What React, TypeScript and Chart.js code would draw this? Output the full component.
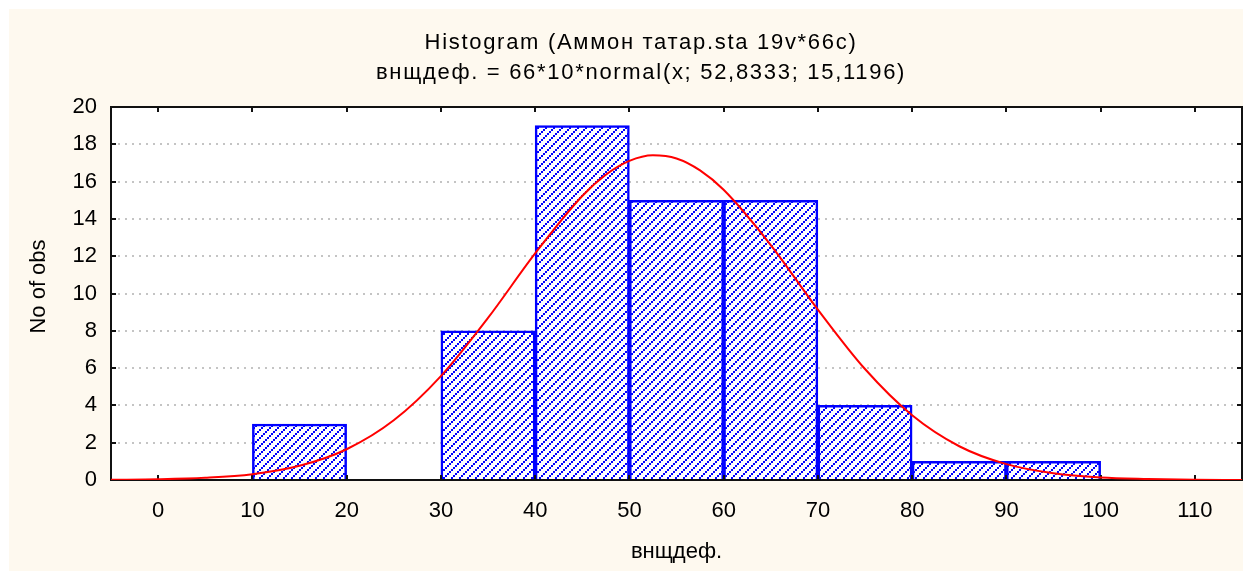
import React, { useEffect, useRef } from "react";
import { Chart, registerables } from "chart.js";

Chart.register(...registerables);

const titleLine1 = "Histogram (Аммон татар.sta 19v*66c)";
const titleLine2 = "внщдеф. = 66*10*normal(x; 52,8333; 15,1196)";
const xAxisTitle = "внщдеф.";
const yAxisTitle = "No of obs";

const binCenters = [5, 15, 25, 35, 45, 55, 65, 75, 85, 95, 105];
const binCounts = [0, 3, 0, 8, 19, 15, 15, 4, 1, 1, 0];

const curveX = [-5, 0, 5, 10, 15, 20, 25, 30, 35, 40, 45, 47.5, 50, 52.5, 55, 57.5, 60, 65, 70, 75, 80, 85, 90, 95, 100, 105, 110, 115];
const curveY = [0.01, 0.04, 0.12, 0.31, 0.76, 1.65, 3.2, 5.57, 8.69, 12.15, 15.23, 16.37, 17.11, 17.41, 17.24, 16.6, 15.56, 12.6, 9.14, 5.95, 3.47, 1.81, 0.85, 0.36, 0.13, 0.05, 0.01, 0.0];

const xTickValues = [0, 10, 20, 30, 40, 50, 60, 70, 80, 90, 100, 110];
const yMin = 0;
const yMax = 20;
const yStep = 2;
const xMin = -5;
const xMax = 115;

const FONT = "'Liberation Sans', Arial, sans-serif";

const decorPlugin = {
  id: "decor",
  beforeDraw(chart: any) {
    const { ctx, chartArea } = chart;
    ctx.save();
    ctx.fillStyle = "#ffffff";
    ctx.fillRect(chartArea.left, chartArea.top, chartArea.right - chartArea.left, chartArea.bottom - chartArea.top);
    ctx.restore();
  },
  afterDatasetDraw(chart: any, args: any) {
    if (args.meta.type !== "bar") return;
    const { ctx, chartArea, scales } = chart;
    const { left, right, top, bottom } = chartArea;
    ctx.save();
    ctx.strokeStyle = "#111111";
    ctx.lineWidth = 2;
    ctx.strokeRect(left, top, right - left, bottom - top);
    ctx.beginPath();
    for (const v of xTickValues) {
      const px = Math.round(scales.x.getPixelForValue(v));
      ctx.moveTo(px, bottom);
      ctx.lineTo(px, bottom - 5);
      ctx.moveTo(px, top);
      ctx.lineTo(px, top + 5);
    }
    for (const t of scales.y.ticks) {
      const py = Math.round(scales.y.getPixelForValue(t.value));
      ctx.moveTo(left, py);
      ctx.lineTo(left + 5, py);
      ctx.moveTo(right, py);
      ctx.lineTo(right - 5, py);
    }
    ctx.stroke();
    ctx.restore();
  },
  afterDraw(chart: any) {
    const { ctx, chartArea } = chart;
    ctx.save();
    ctx.fillStyle = "#000000";
    ctx.textAlign = "center";
    ctx.textBaseline = "alphabetic";
    ctx.font = `22px ${FONT}`;
    (ctx as any).letterSpacing = "1.7px";
    ctx.fillText(titleLine1, 632, 40);
    ctx.fillText(titleLine2, 632, 70);
    (ctx as any).letterSpacing = "0px";
    ctx.font = `22px ${FONT}`;
    ctx.fillText(xAxisTitle, (chartArea.left + chartArea.right) / 2, 549);
    ctx.translate(36, 277.5);
    ctx.rotate(-Math.PI / 2);
    ctx.fillText(yAxisTitle, 0, 0);
    ctx.restore();
  },
};

export default function App() {
  const ref = useRef<HTMLCanvasElement>(null);

  useEffect(() => {
    const canvas = ref.current!;
    const pc = document.createElement("canvas");
    pc.width = 8;
    pc.height = 8;
    const p = pc.getContext("2d")!;
    p.fillStyle = "#ffffff";
    p.fillRect(0, 0, 8, 8);
    p.fillStyle = "#0000ff";
    p.fillRect(6, 0, 2, 2);
    p.fillRect(4, 2, 2, 2);
    p.fillRect(2, 4, 2, 2);
    p.fillRect(0, 6, 2, 2);
    const ctx = canvas.getContext("2d")!;
    const pattern = ctx.createPattern(pc, "repeat");

    const chart = new Chart(canvas, {
      type: "bar",
      data: {
        datasets: [
          {
            type: "line",
            data: curveX.map((x, i) => ({ x, y: curveY[i] })),
            borderColor: "#ff0000",
            borderWidth: 2,
            pointRadius: 0,
            cubicInterpolationMode: "monotone",
            fill: false,
            order: 0,
          } as any,
          {
            type: "bar",
            data: binCenters.map((x, i) => ({ x, y: binCounts[i] })),
            backgroundColor: pattern as any,
            borderColor: "#0000ff",
            borderWidth: 2.5,
            barPercentage: 1,
            categoryPercentage: 1,
            grouped: false,
            order: 1,
          } as any,
        ],
      },
      options: {
        animation: false,
        responsive: false,
        events: [],
        layout: { padding: { top: 98, right: 1, left: 0, bottom: 0 } },
        plugins: {
          legend: { display: false },
          tooltip: { enabled: false },
          title: { display: false },
        },
        scales: {
          x: {
            type: "linear",
            min: xMin,
            max: xMax,
            offset: false,
            grid: { display: false, drawTicks: false },
            border: { display: false },
            ticks: {
              font: { family: FONT, size: 22 },
              color: "#000000",
              padding: 18,
              maxRotation: 0,
              autoSkip: false,
            },
            afterBuildTicks: (s: any) => {
              s.ticks = xTickValues.map((v) => ({ value: v }));
            },
            afterFit: (s: any) => {
              s.height = 91;
            },
          } as any,
          y: {
            type: "linear",
            min: yMin,
            max: yMax,
            ticks: {
              stepSize: yStep,
              font: { family: FONT, size: 22 },
              color: "#000000",
              padding: 14,
            },
            grid: { color: "#c4c4c4", lineWidth: 2, drawTicks: false },
            border: { display: false, dash: [2, 5] },
            afterFit: (s: any) => {
              s.width = 102;
            },
          } as any,
        },
      },
      plugins: [decorPlugin as any],
    });
    return () => chart.destroy();
  }, []);

  return (
    <div
      style={{
        position: "fixed",
        left: 9,
        top: 9,
        right: 0,
        bottom: 0,
        background: "#FEF9EF",
      }}
    >
      <canvas ref={ref} width={1234} height={562} style={{ display: "block", width: 1234, height: 562 }} />
    </div>
  );
}
